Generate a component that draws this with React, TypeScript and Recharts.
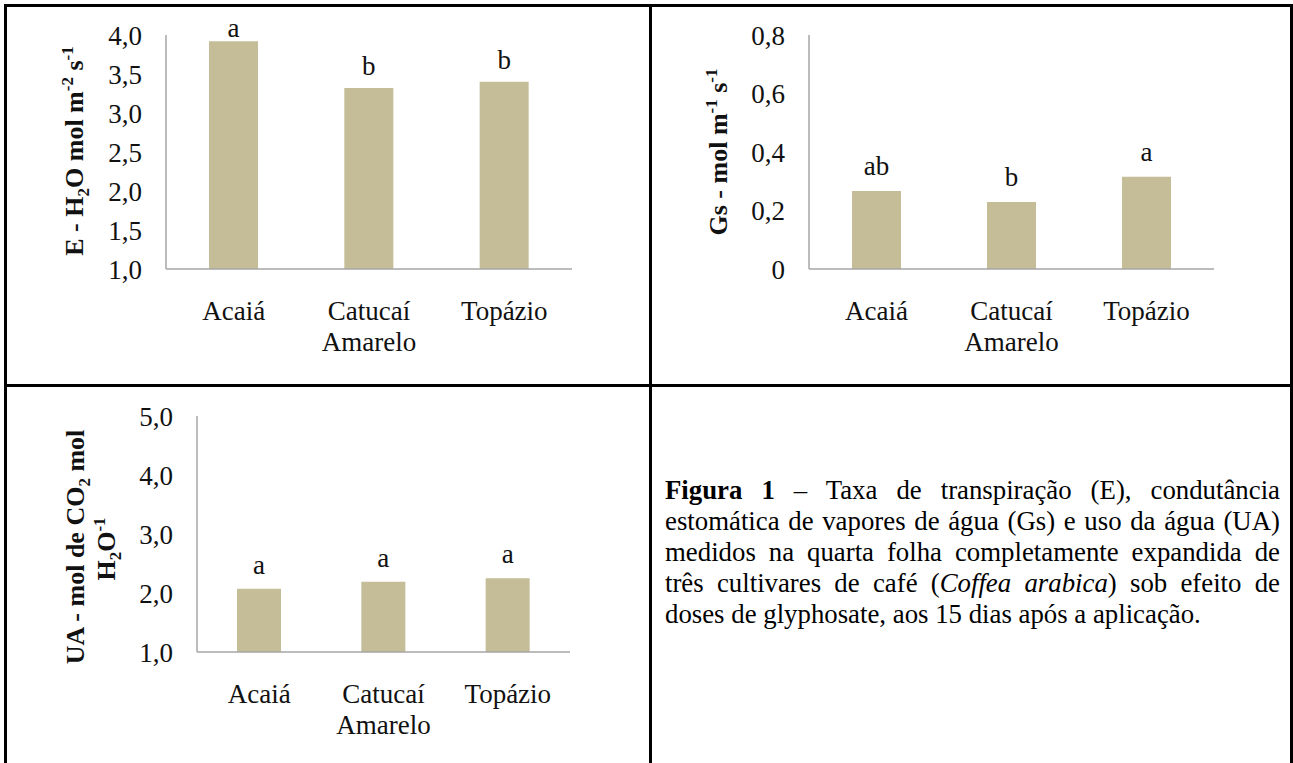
import React from "react";
import { BarChart, Bar, XAxis, YAxis, LabelList } from "recharts";

const SERIF = "'Liberation Serif', 'Times New Roman', serif";
const BAR = "#c4bd97";
const AXIS = "#a6a6a6";
const INK = "#111";
const FS = 27;

const cultivars = ["Acaiá", "Catucaí Amarelo", "Topázio"];

// E - transpiration
const transpiration = [3.92, 3.32, 3.4];
const transpirationLetters = ["a", "b", "b"];
const transpirationTicks = [1, 1.5, 2, 2.5, 3, 3.5, 4];

// Gs - stomatal conductance
const conductance = [0.267, 0.229, 0.315];
const conductanceLetters = ["ab", "b", "a"];
const conductanceTicks = [0, 0.2, 0.4, 0.6, 0.8];

// UA - water use
const waterUse = [2.07, 2.19, 2.25];
const waterUseLetters = ["a", "a", "a"];
const waterUseTicks = [1, 2, 3, 4, 5];

const rows = (values: number[], letters: string[]) =>
  cultivars.map((name, i) => ({ name, value: values[i], letter: letters[i] }));

const commaFmt = (v: number) => (v === 0 ? "0" : v.toFixed(1).replace(".", ","));

function CultivarTick(props: any) {
  const { x, y, payload } = props;
  const words = String(payload.value).split(" ");
  return (
    <text x={x} y={y + 51} textAnchor="middle" fontFamily={SERIF} fontSize={FS} fill={INK}>
      {words.map((w, i) => (
        <tspan key={w} x={x} dy={i === 0 ? 0 : 31}>
          {w}
        </tspan>
      ))}
    </text>
  );
}

const letterLabel = (gap: number, minY: number) => (props: any) => {
  const { x, y, width, value } = props;
  const ty = Math.max(y - gap, minY);
  return (
    <text x={x + width / 2} y={ty} textAnchor="middle" fontFamily={SERIF} fontSize={FS} fill={INK}>
      {value}
    </text>
  );
};

// rotated bold axis title; each part is [text, "" | "sub" | "sup"]
type Part = [string, "" | "sub" | "sup"];
function Title({ cx, cy, parts }: { cx: number; cy: number; parts: Part[] }) {
  let cur = 0;
  return (
    <text
      x={cx}
      y={cy + 9}
      transform={`rotate(-90 ${cx} ${cy})`}
      textAnchor="middle"
      fontFamily={SERIF}
      fontWeight="bold"
      fontSize={26}
      fill={INK}
    >
      {parts.map(([t, s], i) => {
        const target = s === "sub" ? 6 : s === "sup" ? -10 : 0;
        const dy = target - cur;
        cur = target;
        return (
          <tspan key={i} dy={dy} fontSize={s ? 17 : 26}>
            {t}
          </tspan>
        );
      })}
    </text>
  );
}

function Panel({ data, ticks, domain, width, height, margin, yWidth, barSize, gap, title }: any) {
  return (
    <BarChart width={width} height={height} data={data} margin={margin}>
      <XAxis
        dataKey="name"
        axisLine={{ stroke: AXIS, strokeWidth: 1.5 }}
        tickLine={false}
        tickSize={0}
        tickMargin={0}
        height={61}
        interval={0}
        tick={<CultivarTick />}
      />
      <YAxis
        type="number"
        domain={domain}
        ticks={ticks}
        width={yWidth}
        axisLine={{ stroke: AXIS, strokeWidth: 1.5 }}
        tickLine={false}
        tickSize={0}
        tickMargin={24}
        tickFormatter={commaFmt}
        tick={{ fill: INK, fontSize: FS, fontFamily: SERIF }}
        label={{ content: () => title }}
      />
      <Bar dataKey="value" fill={BAR} barSize={barSize} isAnimationActive={false}>
        <LabelList dataKey="letter" content={letterLabel(gap, margin.top + 2)} />
      </Bar>
    </BarChart>
  );
}

export default function App() {
  const border = (style: React.CSSProperties) => (
    <div style={{ position: "absolute", background: "#000", ...style }} />
  );
  const justified: React.CSSProperties = {
    textAlign: "justify",
    textAlignLast: "justify" as any,
    whiteSpace: "nowrap",
  };
  return (
    <div
      style={{
        position: "absolute",
        left: 0,
        top: 0,
        width: 1293,
        height: 763,
        background: "#fff",
        overflow: "hidden",
        fontFamily: SERIF,
      }}
    >
      {border({ left: 4, top: 4, width: 1289, height: 3 })}
      {border({ left: 4, top: 384, width: 1289, height: 3 })}
      {border({ left: 4, top: 4, width: 3, height: 759 })}
      {border({ left: 649, top: 4, width: 3, height: 759 })}
      {border({ left: 1290, top: 4, width: 3, height: 759 })}

      <div style={{ position: "absolute", left: 0, top: 0 }}>
        <Panel
          data={rows(transpiration, transpirationLetters)}
          ticks={transpirationTicks}
          domain={[1, 4]}
          width={640}
          height={380}
          margin={{ top: 35, right: 68, left: 40, bottom: 50 }}
          yWidth={126}
          barSize={49}
          gap={13}
          title={
            <Title
              cx={74}
              cy={151}
              parts={[
                ["E - H", ""],
                ["2", "sub"],
                ["O mol m", ""],
                ["-2", "sup"],
                [" s", ""],
                ["-1", "sup"],
              ]}
            />
          }
        />
      </div>

      <div style={{ position: "absolute", left: 650, top: 0 }}>
        <Panel
          data={rows(conductance, conductanceLetters)}
          ticks={conductanceTicks}
          domain={[0, 0.8]}
          width={640}
          height={380}
          margin={{ top: 35, right: 76, left: 40, bottom: 50 }}
          yWidth={119}
          barSize={49}
          gap={16}
          title={
            <Title
              cx={68}
              cy={152}
              parts={[
                ["Gs - mol m", ""],
                ["-1", "sup"],
                [" s", ""],
                ["-1", "sup"],
              ]}
            />
          }
        />
      </div>

      <div style={{ position: "absolute", left: 0, top: 385 }}>
        <Panel
          data={rows(waterUse, waterUseLetters)}
          ticks={waterUseTicks}
          domain={[1, 5]}
          width={640}
          height={375}
          margin={{ top: 31, right: 70, left: 40, bottom: 47 }}
          yWidth={157}
          barSize={44}
          gap={15}
          title={
            <g>
              <Title
                cx={75}
                cy={162}
                parts={[
                  ["UA - mol de CO", ""],
                  ["2", "sub"],
                  [" mol", ""],
                ]}
              />
              <Title
                cx={106}
                cy={164}
                parts={[
                  ["H", ""],
                  ["2", "sub"],
                  ["O", ""],
                  ["-1", "sup"],
                ]}
              />
            </g>
          }
        />
      </div>

      <div
        style={{
          position: "absolute",
          left: 665,
          top: 475,
          width: 615,
          fontSize: 26.8,
          lineHeight: "31px",
          color: "#000",
        }}
      >
        <div style={justified}>
          <b>Figura 1</b> – Taxa de transpiração (E), condutância
        </div>
        <div style={justified}>estomática de vapores de água (Gs) e uso da água (UA)</div>
        <div style={justified}>medidos na quarta folha completamente expandida de</div>
        <div style={justified}>
          três cultivares de café (<i>Coffea arabica</i>) sob efeito de
        </div>
        <div style={{ whiteSpace: "nowrap" }}>doses de glyphosate, aos 15 dias após a aplicação.</div>
      </div>
    </div>
  );
}
